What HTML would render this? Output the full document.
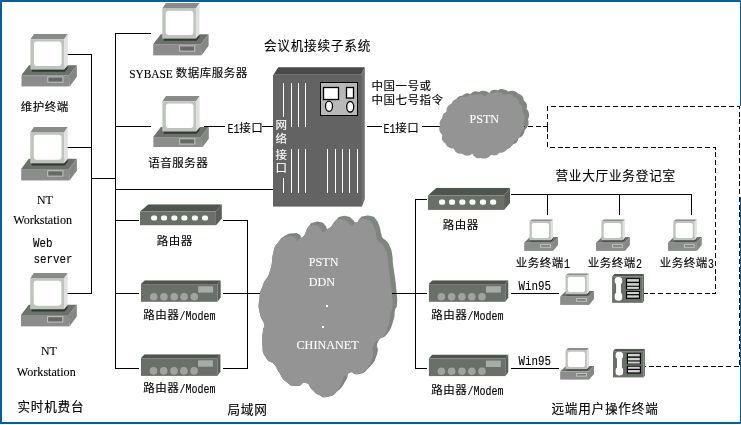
<!DOCTYPE html>
<html lang="zh-CN"><head><meta charset="utf-8"><title>会议机接续子系统</title>
<style>
html,body{margin:0;padding:0;background:#fff;}
body{width:741px;height:425px;overflow:hidden;}
svg{display:block;will-change:transform;}
.c{font-family:"Liberation Serif","Noto Sans CJK SC",sans-serif;font-size:11.5px;letter-spacing:.5px;fill:#000;}
.t{font-family:"Liberation Serif","Noto Sans CJK SC",sans-serif;font-size:12.6px;letter-spacing:.8px;fill:#000;}
.s{font-family:"Liberation Serif",serif;font-size:13.33px;fill:#000;}
.m{font-family:"Liberation Mono","Noto Sans CJK SC",monospace;font-size:12px;fill:#000;}
.c,.t,.m,.s{stroke:#000;stroke-width:.12px;}
.w{fill:#fff;stroke:#fff;}
.ln{stroke:#000;stroke-width:1;fill:none;shape-rendering:crispEdges;}
.da{stroke:#000;stroke-width:1;fill:none;stroke-dasharray:5 2.75;shape-rendering:crispEdges;}
</style></head><body>
<svg width="741" height="425" viewBox="0 0 741 425">
<defs>
<symbol id="pc" viewBox="0 0 56 53" preserveAspectRatio="none">
 <polygon points="7.7,31.3 55.8,31.3 47.9,41.4 0,41.4" fill="#6a726a"/>
 <rect x="0" y="41.4" width="48.5" height="11.4" fill="#8c8c8c"/>
 <polygon points="47.9,41.4 55.8,31.3 55.8,43 48.5,52.8" fill="#848884"/>
 <rect x="26.6" y="43.1" width="15.2" height="5.3" fill="#686868" stroke="#c0c8c0" stroke-width="1"/>
 <polygon points="10.6,35.7 43.2,35.7 46.5,32 46.5,34.5 43.5,38 10.6,38" fill="#303830"/>
 <polygon points="12.8,0 46.6,0 43,5.4 9.2,5.4" fill="#8a8a8a"/>
 <rect x="9.2" y="5.4" width="33.8" height="30.3" fill="#bcc4bc"/>
 <polygon points="43,5.4 46.6,0 46.6,31.5 43,35.7" fill="#e0e0e0"/>
 <rect x="12.7" y="7.6" width="27.7" height="24.6" rx="3" ry="3" fill="#fff"/>
</symbol>
<symbol id="pcs" viewBox="0 0 34 31.7" preserveAspectRatio="none">
 <polygon points="6,17.8 33.9,17.8 28.9,23.5 0,23.5" fill="#6a726a"/>
 <rect x="0" y="23.5" width="29" height="8.2" fill="#8c8c8c"/>
 <polygon points="28.9,23.5 33.9,17.8 33.9,25.8 28.9,31.7" fill="#848884"/>
 <rect x="16.5" y="25.4" width="9.8" height="2.6" fill="#787878" stroke="#c0c8c0" stroke-width="1"/>
 <polygon points="6.2,21.1 26.8,21.1 28.7,19 28.7,20.5 27,22.4 6.2,22.4" fill="#303830"/>
 <polygon points="8,0 28.9,0 26.8,2.3 5.4,2.3" fill="#8e8e8e"/>
 <rect x="5.4" y="2.3" width="21.4" height="18.8" fill="#bcc4bc"/>
 <polygon points="26.8,2.3 28.9,0 28.9,18.6 26.8,21.1" fill="#e0e0e0"/>
 <rect x="7.7" y="3.7" width="17.2" height="15.1" rx="2" ry="2" fill="#fff"/>
</symbol>
<symbol id="hub" viewBox="0 0 82 22" preserveAspectRatio="none">
 <polygon points="8.7,0 82,0 76,7.6 0,7.6" fill="#4e544e"/>
 <rect x="0" y="7.6" width="76" height="14.2" fill="#687068"/>
 <polygon points="76,7.6 82,0 82,14.8 76,21.8" fill="#586058"/>
 <g fill="#fff">
 <rect x="11.2" y="11.6" width="6" height="5.2" rx="2"/>
 <rect x="21.2" y="11.6" width="6" height="5.2" rx="2"/>
 <rect x="31.4" y="11.6" width="6" height="5.2" rx="2"/>
 <rect x="41.5" y="11.6" width="6" height="5.2" rx="2"/>
 <rect x="52" y="11.6" width="6" height="5.2" rx="2"/>
 <rect x="62.1" y="11.6" width="6" height="5.2" rx="2"/>
 </g>
</symbol>
<symbol id="mdm" viewBox="0 0 80 22" preserveAspectRatio="none">
 <polygon points="3.8,0 79.7,0 76.6,3.9 0,3.9" fill="#4e544e"/>
 <rect x="0" y="3.9" width="76.6" height="17.7" fill="#687068"/>
 <polygon points="76.6,3.9 79.7,0 79.7,17.3 76.6,21.6" fill="#586058"/>
 <rect x="57.2" y="6" width="14.9" height="6.4" fill="#a8aca8"/>
 <g fill="#a0a4a0">
 <circle cx="12.7" cy="16.6" r="3.8"/><circle cx="22.9" cy="16.6" r="3.8"/><circle cx="33.2" cy="16.6" r="3.8"/>
 <circle cx="43.1" cy="16.6" r="3.8"/><circle cx="53.3" cy="16.6" r="3.8"/>
 </g>
</symbol>
<symbol id="ph" viewBox="0 0 32 29" preserveAspectRatio="none">
 <polygon points="0,2.4 2.4,0 31.8,0 30.6,2.4" fill="#505850"/>
 <polygon points="30.6,2.4 31.8,0 31.8,26.8 30.6,28.7" fill="#505850"/>
 <rect x="0" y="2.4" width="30.6" height="26.3" fill="#687068"/>
 <path d="M2.6 6.4 a3.75 3.4 0 0 1 7.5 0 v1.2 q0 1.6 -1.2 2.2 v9.2 q1.2 0.6 1.2 2.2 v2.4 a3.75 3 0 0 1 -7.5 0 v-2.4 q0 -1.6 1.4 -2.2 v-9.2 q-1.4 -0.6 -1.4 -2.2z" fill="#fff"/>
 <rect x="13.8" y="4.1" width="14.1" height="11.3" fill="#000"/>
 <rect x="13.8" y="17" width="14.1" height="7.8" fill="#000"/>
 <g fill="#d0d0d0">
 <rect x="15" y="5" width="11.8" height="2.6"/><rect x="15" y="9" width="11.8" height="2.6"/><rect x="15" y="12.7" width="11.8" height="2.1"/>
 <rect x="15" y="17.9" width="11.8" height="2.1"/><rect x="15" y="21.2" width="11.8" height="2.4"/>
 </g>
</symbol>
</defs>
<rect x="0" y="0" width="741" height="425" fill="#fff"/>

<path class="ln" d="M67 54.5H91.5 M67 147.5H91.5 M67 293.5H91.5 M91.5 54V294 M91 178.5H115.5 M115.5 33V369 M115 33.5H151 M115 126.5H151 M204 126.5H225 M262 126.5H274 M115 189.5H273 M115 220.5H139 M223 220.5H248 M247.5 220V369 M115 293.5H139 M223 293.5H262 M115 368.5H139 M223 368.5H248 M367 126.5H382 M422 126.5H441 M395 293.5H427 M415.5 199V369 M415 199.5H427 M415 368.5H427 M511 194.5H692 M547.5 194V215 M619.5 194V215 M691.5 194V215 M511 293.5H559 M511 368.5H559"/>
<path class="da" d="M547.5 126.5V106.5H739.5V366.5H645"/>
<path class="da" d="M547.5 126.5V147.5H715.5V293.5H644"/>
<use href="#pc" x="21.3" y="33.9" width="55.8" height="52.9"/>
<use href="#pc" x="21.1" y="127.1" width="56.0" height="53.7"/>
<use href="#pc" x="21.0" y="273.0" width="56.0" height="53.7"/>
<use href="#pc" x="153.1" y="3.1" width="55.8" height="52.6"/>
<use href="#pc" x="153.2" y="96.0" width="55.8" height="52.6"/>
<use href="#pcs" x="524.1" y="219.2" width="34" height="31.7"/>
<use href="#pcs" x="596.0" y="219.2" width="34" height="31.7"/>
<use href="#pcs" x="667.9" y="219.2" width="34" height="31.7"/>
<use href="#pcs" x="560.1" y="273.2" width="34" height="31.7"/>
<use href="#pcs" x="560.1" y="348.1" width="34" height="31.7"/>
<rect x="150" y="147" width="62" height="4" fill="#fff"/>
<use href="#hub" x="139.9" y="204.2" width="82" height="21.4"/>
<use href="#hub" x="427.8" y="187.8" width="82.3" height="22.3"/>
<use href="#mdm" x="141.0" y="280.2" width="80" height="22"/>
<use href="#mdm" x="140.8" y="354.3" width="80" height="22"/>
<use href="#mdm" x="428.7" y="280.2" width="80" height="22"/>
<use href="#mdm" x="428.7" y="354.6" width="80" height="22"/>
<use href="#ph" x="612.1" y="274.1" width="32" height="29"/>
<use href="#ph" x="613" y="348.8" width="32" height="29"/>
<polygon points="278.2,67.2 364.8,67.2 361,74.8 273.5,74.8" fill="#484848"/>
<polygon points="361,74.8 364.8,67.2 364.8,199 362,206.6 361,206.6" fill="#6c746c"/>
<rect x="273" y="74.8" width="88.6" height="131.8" fill="#636363"/>
<path d="M291.5 83V127 M291.5 149V193 M298.5 83V127 M298.5 149V193 M305.5 83V127 M305.5 149V193 M283.5 83V117 M283.5 178V193 M327.5 149V193 M335.5 149V193 M342.5 149V193 M349.5 149V193 M357.5 149V193" stroke="#fff" stroke-width="1" fill="none" shape-rendering="crispEdges"/>
<rect x="320.5" y="82.5" width="37" height="33" fill="#b8b8b8" stroke="#000" stroke-width="1"/>
<rect x="323.5" y="87.5" width="15" height="12" fill="#fff" stroke="#000" stroke-width="1.3"/>
<rect x="346.5" y="87.5" width="7" height="10.5" fill="#fff" stroke="#000" stroke-width="1.3"/>
<ellipse cx="329" cy="106.2" rx="3.5" ry="5.1" fill="#fff" stroke="#000" stroke-width="1.3"/>
<ellipse cx="350.2" cy="106.8" rx="3.5" ry="5.3" fill="#fff" stroke="#000" stroke-width="1.3"/>
<text class="c w" x="275.5" y="128.5">网</text>
<text class="c w" x="275.5" y="142.5">络</text>
<text class="c w" x="275.5" y="159">接</text>
<text class="c w" x="275.5" y="171.5">口</text>
<path d="M440.1 125.5A6.1 6.1 0 0 1 442.3 118.2A6.0 6.0 0 0 1 446.4 112.0A7.9 7.9 0 0 1 451.7 103.6A6.2 6.2 0 0 1 457.9 99.0A6.8 6.8 0 0 1 466.2 97.3A6.9 6.9 0 0 1 474.6 95.2A8.4 8.4 0 0 1 485.0 96.3A7.1 7.1 0 0 1 493.4 93.6A8.4 8.4 0 0 1 503.9 94.8A8.6 8.6 0 0 1 514.3 97.3A6.5 6.5 0 0 1 519.4 103.6A7.1 7.1 0 0 1 522.2 112.0A8.4 8.4 0 0 1 523.7 122.4A8.7 8.7 0 0 1 520.5 132.9A8.3 8.3 0 0 1 514.2 141.1A7.1 7.1 0 0 1 508.0 147.4A7.9 7.9 0 0 1 499.6 152.7A6.9 6.9 0 0 1 491.2 154.7A8.7 8.7 0 0 1 480.8 157.9A7.4 7.4 0 0 1 472.5 153.7A8.4 8.4 0 0 1 462.1 153.7A7.9 7.9 0 0 1 453.7 148.5A7.9 7.9 0 0 1 445.3 143.2A7.1 7.1 0 0 1 442.3 134.9A7.8 7.8 0 0 1 440.1 125.5Z" fill="#7e867e" transform="translate(4.3,-3.2)"/>
<path class="da" d="M520 126.5H547.5"/>
<path d="M440.1 125.5A6.1 6.1 0 0 1 442.3 118.2A6.0 6.0 0 0 1 446.4 112.0A7.9 7.9 0 0 1 451.7 103.6A6.2 6.2 0 0 1 457.9 99.0A6.8 6.8 0 0 1 466.2 97.3A6.9 6.9 0 0 1 474.6 95.2A8.4 8.4 0 0 1 485.0 96.3A7.1 7.1 0 0 1 493.4 93.6A8.4 8.4 0 0 1 503.9 94.8A8.6 8.6 0 0 1 514.3 97.3A6.5 6.5 0 0 1 519.4 103.6A7.1 7.1 0 0 1 522.2 112.0A8.4 8.4 0 0 1 523.7 122.4A8.7 8.7 0 0 1 520.5 132.9A8.3 8.3 0 0 1 514.2 141.1A7.1 7.1 0 0 1 508.0 147.4A7.9 7.9 0 0 1 499.6 152.7A6.9 6.9 0 0 1 491.2 154.7A8.7 8.7 0 0 1 480.8 157.9A7.4 7.4 0 0 1 472.5 153.7A8.4 8.4 0 0 1 462.1 153.7A7.9 7.9 0 0 1 453.7 148.5A7.9 7.9 0 0 1 445.3 143.2A7.1 7.1 0 0 1 442.3 134.9A7.8 7.8 0 0 1 440.1 125.5Z" fill="#949494"/>
<clipPath id="bc"><path d="M259.4 299.0C260.5 289.6 259.5 294.4 263.0 285.0C266.5 275.6 266.5 281.9 270.0 270.9C273.5 259.9 270.8 261.4 273.5 252.0C276.2 242.6 274.3 248.1 278.2 242.6C282.1 237.1 280.2 238.7 285.3 235.6C290.4 232.5 288.9 233.7 293.5 233.2C298.1 232.7 295.8 233.0 299.0 234.2C302.2 235.4 299.7 239.5 303.0 236.8C306.3 234.1 305.1 231.0 308.8 226.2C312.5 221.4 309.9 223.8 314.0 222.5C318.1 221.2 317.3 221.5 321.0 222.3C324.7 223.1 322.4 222.9 325.0 225.0C327.6 227.1 325.2 230.1 328.8 228.5C332.4 226.9 331.8 224.3 335.9 220.3C340.0 216.3 337.0 217.8 341.0 216.5C345.0 215.2 344.2 215.5 348.0 216.5C351.8 217.5 349.7 217.5 352.5 219.5C355.3 221.5 353.9 222.9 356.4 222.5C358.9 222.1 357.6 220.4 360.0 218.3C362.4 216.2 359.7 216.9 363.5 216.2C367.3 215.5 367.3 215.1 371.5 216.2C375.7 217.3 373.4 216.2 376.0 219.5C378.6 222.8 377.5 221.2 379.3 226.0C381.1 230.8 380.1 229.9 381.3 234.0C382.5 238.1 381.2 235.9 383.0 238.3C384.8 240.7 384.2 238.0 386.7 241.2C389.2 244.4 388.5 242.9 390.4 247.8C392.3 252.7 391.5 250.7 392.4 256.0C393.3 261.3 392.2 257.3 393.0 263.8C393.8 270.3 393.6 267.0 394.7 275.6C395.8 284.2 395.6 280.3 396.4 289.7C397.2 299.1 397.5 296.9 397.0 303.8C396.5 310.7 396.3 304.8 395.0 310.5C393.7 316.2 395.8 313.1 393.2 320.9C390.6 328.7 392.2 326.9 387.2 333.8C382.2 340.7 381.6 334.7 378.2 341.6C374.8 348.5 379.9 345.9 376.9 354.5C373.9 363.1 375.2 361.0 369.1 367.5C363.0 374.0 365.2 372.3 358.7 374.0C352.2 375.7 354.0 370.6 349.7 372.7C345.4 374.8 349.7 374.4 345.8 380.4C341.9 386.4 344.0 385.4 338.0 390.8C332.0 396.2 334.2 395.4 327.7 396.7C321.2 398.0 323.8 397.1 318.6 394.7C313.4 392.3 316.4 393.4 312.1 389.5C307.8 385.6 310.9 384.1 305.7 383.0C300.5 381.9 303.1 386.5 296.6 386.1C290.1 385.7 292.2 386.6 286.2 381.7C280.2 376.8 282.4 377.0 278.5 371.4C274.6 365.8 278.9 369.7 274.6 364.9C270.3 360.1 269.6 364.0 265.5 357.1C261.4 350.2 263.3 352.8 262.4 344.2C261.5 335.6 262.3 337.7 262.9 331.2C263.5 324.7 265.2 330.8 264.2 324.8C263.2 318.8 261.4 321.7 259.8 313.1C258.2 304.5 258.3 308.4 259.4 299.0Z"/></clipPath>
<path d="M259.4 299.0C260.5 289.6 259.5 294.4 263.0 285.0C266.5 275.6 266.5 281.9 270.0 270.9C273.5 259.9 270.8 261.4 273.5 252.0C276.2 242.6 274.3 248.1 278.2 242.6C282.1 237.1 280.2 238.7 285.3 235.6C290.4 232.5 288.9 233.7 293.5 233.2C298.1 232.7 295.8 233.0 299.0 234.2C302.2 235.4 299.7 239.5 303.0 236.8C306.3 234.1 305.1 231.0 308.8 226.2C312.5 221.4 309.9 223.8 314.0 222.5C318.1 221.2 317.3 221.5 321.0 222.3C324.7 223.1 322.4 222.9 325.0 225.0C327.6 227.1 325.2 230.1 328.8 228.5C332.4 226.9 331.8 224.3 335.9 220.3C340.0 216.3 337.0 217.8 341.0 216.5C345.0 215.2 344.2 215.5 348.0 216.5C351.8 217.5 349.7 217.5 352.5 219.5C355.3 221.5 353.9 222.9 356.4 222.5C358.9 222.1 357.6 220.4 360.0 218.3C362.4 216.2 359.7 216.9 363.5 216.2C367.3 215.5 367.3 215.1 371.5 216.2C375.7 217.3 373.4 216.2 376.0 219.5C378.6 222.8 377.5 221.2 379.3 226.0C381.1 230.8 380.1 229.9 381.3 234.0C382.5 238.1 381.2 235.9 383.0 238.3C384.8 240.7 384.2 238.0 386.7 241.2C389.2 244.4 388.5 242.9 390.4 247.8C392.3 252.7 391.5 250.7 392.4 256.0C393.3 261.3 392.2 257.3 393.0 263.8C393.8 270.3 393.6 267.0 394.7 275.6C395.8 284.2 395.6 280.3 396.4 289.7C397.2 299.1 397.5 296.9 397.0 303.8C396.5 310.7 396.3 304.8 395.0 310.5C393.7 316.2 395.8 313.1 393.2 320.9C390.6 328.7 392.2 326.9 387.2 333.8C382.2 340.7 381.6 334.7 378.2 341.6C374.8 348.5 379.9 345.9 376.9 354.5C373.9 363.1 375.2 361.0 369.1 367.5C363.0 374.0 365.2 372.3 358.7 374.0C352.2 375.7 354.0 370.6 349.7 372.7C345.4 374.8 349.7 374.4 345.8 380.4C341.9 386.4 344.0 385.4 338.0 390.8C332.0 396.2 334.2 395.4 327.7 396.7C321.2 398.0 323.8 397.1 318.6 394.7C313.4 392.3 316.4 393.4 312.1 389.5C307.8 385.6 310.9 384.1 305.7 383.0C300.5 381.9 303.1 386.5 296.6 386.1C290.1 385.7 292.2 386.6 286.2 381.7C280.2 376.8 282.4 377.0 278.5 371.4C274.6 365.8 278.9 369.7 274.6 364.9C270.3 360.1 269.6 364.0 265.5 357.1C261.4 350.2 263.3 352.8 262.4 344.2C261.5 335.6 262.3 337.7 262.9 331.2C263.5 324.7 265.2 330.8 264.2 324.8C263.2 318.8 261.4 321.7 259.8 313.1C258.2 304.5 258.3 308.4 259.4 299.0Z" fill="#7e867e"/>
<path class="ln" d="M388 293.5H400"/>
<g clip-path="url(#bc)"><path d="M259.4 299.0C260.5 289.6 259.5 294.4 263.0 285.0C266.5 275.6 266.5 281.9 270.0 270.9C273.5 259.9 270.8 261.4 273.5 252.0C276.2 242.6 274.3 248.1 278.2 242.6C282.1 237.1 280.2 238.7 285.3 235.6C290.4 232.5 288.9 233.7 293.5 233.2C298.1 232.7 295.8 233.0 299.0 234.2C302.2 235.4 299.7 239.5 303.0 236.8C306.3 234.1 305.1 231.0 308.8 226.2C312.5 221.4 309.9 223.8 314.0 222.5C318.1 221.2 317.3 221.5 321.0 222.3C324.7 223.1 322.4 222.9 325.0 225.0C327.6 227.1 325.2 230.1 328.8 228.5C332.4 226.9 331.8 224.3 335.9 220.3C340.0 216.3 337.0 217.8 341.0 216.5C345.0 215.2 344.2 215.5 348.0 216.5C351.8 217.5 349.7 217.5 352.5 219.5C355.3 221.5 353.9 222.9 356.4 222.5C358.9 222.1 357.6 220.4 360.0 218.3C362.4 216.2 359.7 216.9 363.5 216.2C367.3 215.5 367.3 215.1 371.5 216.2C375.7 217.3 373.4 216.2 376.0 219.5C378.6 222.8 377.5 221.2 379.3 226.0C381.1 230.8 380.1 229.9 381.3 234.0C382.5 238.1 381.2 235.9 383.0 238.3C384.8 240.7 384.2 238.0 386.7 241.2C389.2 244.4 388.5 242.9 390.4 247.8C392.3 252.7 391.5 250.7 392.4 256.0C393.3 261.3 392.2 257.3 393.0 263.8C393.8 270.3 393.6 267.0 394.7 275.6C395.8 284.2 395.6 280.3 396.4 289.7C397.2 299.1 397.5 296.9 397.0 303.8C396.5 310.7 396.3 304.8 395.0 310.5C393.7 316.2 395.8 313.1 393.2 320.9C390.6 328.7 392.2 326.9 387.2 333.8C382.2 340.7 381.6 334.7 378.2 341.6C374.8 348.5 379.9 345.9 376.9 354.5C373.9 363.1 375.2 361.0 369.1 367.5C363.0 374.0 365.2 372.3 358.7 374.0C352.2 375.7 354.0 370.6 349.7 372.7C345.4 374.8 349.7 374.4 345.8 380.4C341.9 386.4 344.0 385.4 338.0 390.8C332.0 396.2 334.2 395.4 327.7 396.7C321.2 398.0 323.8 397.1 318.6 394.7C313.4 392.3 316.4 393.4 312.1 389.5C307.8 385.6 310.9 384.1 305.7 383.0C300.5 381.9 303.1 386.5 296.6 386.1C290.1 385.7 292.2 386.6 286.2 381.7C280.2 376.8 282.4 377.0 278.5 371.4C274.6 365.8 278.9 369.7 274.6 364.9C270.3 360.1 269.6 364.0 265.5 357.1C261.4 350.2 263.3 352.8 262.4 344.2C261.5 335.6 262.3 337.7 262.9 331.2C263.5 324.7 265.2 330.8 264.2 324.8C263.2 318.8 261.4 321.7 259.8 313.1C258.2 304.5 258.3 308.4 259.4 299.0Z" fill="#949494" transform="translate(-4.5,3.3)"/></g>
<text class="s w" x="469.5" y="123" textLength="29.6" lengthAdjust="spacingAndGlyphs">PSTN</text>
<text class="s w" x="308.8" y="266" textLength="29.6" lengthAdjust="spacingAndGlyphs">PSTN</text>
<text class="s w" x="308.8" y="286" textLength="26.2" lengthAdjust="spacingAndGlyphs">DDN</text>
<rect x="326" y="305" width="2" height="2" fill="#fff"/><rect x="322" y="326" width="2" height="2" fill="#fff"/>
<text class="s w" x="296.5" y="349" textLength="62.2" lengthAdjust="spacingAndGlyphs">CHINANET</text>
<text class="c" x="20.7" y="110.8">维护终端</text>
<text class="s" x="36.9" y="204" textLength="15.8" lengthAdjust="spacingAndGlyphs">NT</text>
<text class="s" x="13.2" y="224.3" textLength="58.9" lengthAdjust="spacingAndGlyphs">Workstation</text>
<text class="m" x="33" y="247" style="font-size:13px" textLength="19.5" lengthAdjust="spacingAndGlyphs">Web</text>
<text class="m" x="33.5" y="263" style="font-size:13px" textLength="39" lengthAdjust="spacingAndGlyphs">server</text>
<text class="s" x="40.9" y="355" textLength="15.8" lengthAdjust="spacingAndGlyphs">NT</text>
<text class="s" x="16.8" y="376" textLength="58.9" lengthAdjust="spacingAndGlyphs">Workstation</text>
<text class="t" x="17.4" y="410.8">实时机费台</text>
<text class="s" x="129.2" y="78" textLength="43.6" lengthAdjust="spacingAndGlyphs">SYBASE</text>
<text class="c" x="175.7" y="77.3">数据库服务器</text>
<text class="c" x="148.2" y="166.8">语音服务器</text>
<text class="m" x="227.5" y="133" style="font-size:12px" textLength="12" lengthAdjust="spacingAndGlyphs">E1</text>
<text class="c" x="239.2" y="132.3">接口</text>
<text class="m" x="383.5" y="133" style="font-size:12px" textLength="12" lengthAdjust="spacingAndGlyphs">E1</text>
<text class="c" x="395.2" y="132.3">接口</text>
<text class="t" x="263.9" y="49.8">会议机接续子系统</text>
<text class="c" x="371.4" y="90.1">中国一号或</text>
<text class="c" x="371.4" y="104.1">中国七号指令</text>
<text class="c" x="156.7" y="245.3">路由器</text>
<text class="c" x="442.7" y="228.8">路由器</text>
<text class="c" x="143.2" y="318.8">路由器</text>
<text class="m" x="179.5" y="319.5" style="font-size:12px" textLength="36" lengthAdjust="spacingAndGlyphs">/Modem</text>
<text class="c" x="143.2" y="391.8">路由器</text>
<text class="m" x="179.5" y="392.5" style="font-size:12px" textLength="36" lengthAdjust="spacingAndGlyphs">/Modem</text>
<text class="c" x="431.2" y="318.8">路由器</text>
<text class="m" x="467.5" y="319.5" style="font-size:12px" textLength="36" lengthAdjust="spacingAndGlyphs">/Modem</text>
<text class="c" x="431.2" y="393.8">路由器</text>
<text class="m" x="467.5" y="394.5" style="font-size:12px" textLength="36" lengthAdjust="spacingAndGlyphs">/Modem</text>
<text class="t" x="227.4" y="413.8">局域网</text>
<text class="t" x="555.4" y="179.8">营业大厅业务登记室</text>
<text class="c" x="515.7" y="267.3">业务终端</text>
<text class="m" x="564" y="268" style="font-size:12px" textLength="6" lengthAdjust="spacingAndGlyphs">1</text>
<text class="c" x="587.7" y="267.3">业务终端</text>
<text class="m" x="636" y="268" style="font-size:12px" textLength="6" lengthAdjust="spacingAndGlyphs">2</text>
<text class="c" x="659.7" y="267.3">业务终端</text>
<text class="m" x="708" y="268" style="font-size:12px" textLength="6" lengthAdjust="spacingAndGlyphs">3</text>
<text class="m" x="518.5" y="289.5" style="font-size:13px" textLength="32.5" lengthAdjust="spacingAndGlyphs">Win95</text>
<text class="m" x="518.5" y="364.5" style="font-size:13px" textLength="32.5" lengthAdjust="spacingAndGlyphs">Win95</text>
<text class="t" x="551.4" y="413.3">远端用户操作终端</text>
<rect x="0" y="0" width="741" height="2" fill="#005f9c"/>
<rect x="0" y="0" width="2" height="424" fill="#005f9c"/>
<rect x="0" y="422" width="741" height="2" fill="#005f9c"/>
<rect x="740" y="0" width="1" height="106" fill="#005f9c"/>
<rect x="740" y="197" width="1" height="227" fill="#005f9c"/>
</svg></body></html>
